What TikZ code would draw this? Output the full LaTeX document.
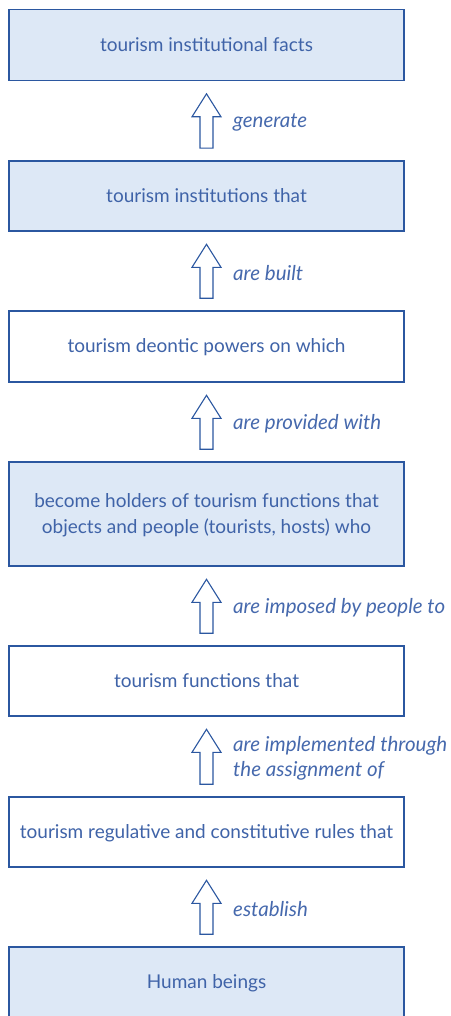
\documentclass[tikz,border=0pt]{standalone}
\usepackage{fontspec}
\setmainfont{Lato}
\usetikzlibrary{calc}
\definecolor{boxline}{HTML}{2B57A0}
\definecolor{boxfill}{HTML}{DDE8F6}
\definecolor{boxtext}{HTML}{3F63A8}
\definecolor{labeltext}{HTML}{4669AD}
\tikzset{
  stage/.style={draw=boxline, line width=1.6pt, minimum width=395pt, text=boxtext,
    font=\fontsize{19}{26}\selectfont, align=center, inner sep=0pt, text depth=1.5pt},
  shaded/.style={stage, fill=boxfill},
  plain/.style={stage, fill=white},
  blockarr/.style={draw=boxline, line width=1.1pt, fill=white, line join=miter},
  verb/.style={anchor=west, text=labeltext, font=\fontsize{20.5}{25}\selectfont\itshape,
    align=left, inner sep=0pt}
}
% block arrow from the lower stage up to the upper stage
\newcommand\blockarrow[2]{%
  \draw[blockarr] ($(#1.north)+(-6.5,-12)$) -- ($(#1.north)+(6.5,-12)$)
    -- ($(#2.south)+(6.5,35.5)$) -- ($(#2.south)+(14.5,35.5)$)
    -- ($(#2.south)+(0,12.5)$) -- ($(#2.south)+(-14.5,35.5)$)
    -- ($(#2.south)+(-6.5,35.5)$) -- cycle;}
\newcommand\verblabel[4]{%
  \node[verb] (#1) at ($($(#2.north)!0.5!(#3.south)$)+(26.5,2)$) {#4};}
\begin{document}
\begin{tikzpicture}[x=1pt, y=-1pt]
\useasboundingbox (0,0) rectangle (450,1016);
\clip (0,0) rectangle (450,1016);
\node[shaded, minimum height=71pt] (facts) at (206.5,45) {tourism institutional facts};
\node[shaded, minimum height=70pt] (inst) at (206.5,196) {tourism institutions that};
\node[plain, minimum height=71pt] (deon) at (206.5,346.5) {tourism deontic powers on which};
\node[shaded, minimum height=104pt] (hold) at (206.5,514) {become holders of tourism functions that\\objects and people (tourists, hosts) who};
\node[plain, minimum height=70pt] (func) at (206.5,681) {tourism functions that};
\node[plain, minimum height=70pt] (rules) at (206.5,832) {tourism regulative and constitutive rules that};
\node[shaded, minimum height=84pt] (human) at (206.5,989) {};
\node[text=boxtext, font=\fontsize{19}{26}\selectfont] (humantext) at (206.5,983) {Human beings};

\blockarrow{inst}{facts}
\blockarrow{deon}{inst}
\blockarrow{hold}{deon}
\blockarrow{func}{hold}
\blockarrow{rules}{func}
\blockarrow{human}{rules}

\verblabel{v1}{inst}{facts}{generate}
\verblabel{v2}{deon}{inst}{are built}
\verblabel{v3}{hold}{deon}{are provided with}
\verblabel{v4}{func}{hold}{are imposed by people to}
\verblabel{v5}{rules}{func}{are implemented through\\the assignment of}
\verblabel{v6}{human}{rules}{establish}
\end{tikzpicture}
\end{document}
